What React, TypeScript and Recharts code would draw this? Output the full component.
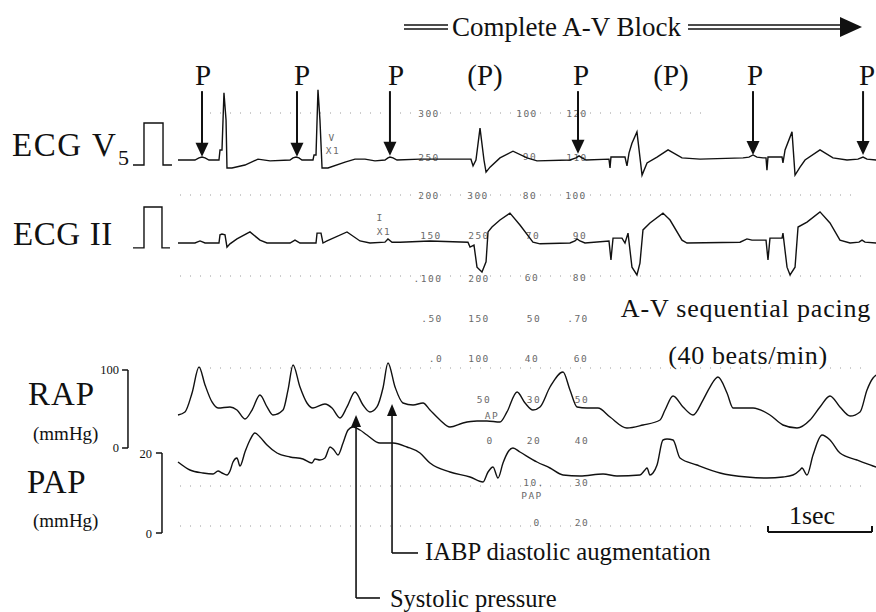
import React from 'react';
import { LineChart, Line, XAxis, YAxis, ReferenceLine, ReferenceDot } from 'recharts';

const SERIF = '"Liberation Serif", "Times New Roman", Times, serif';
const MONO = '"DejaVu Sans Mono", "Liberation Mono", monospace';
const INK = '#111';

// time axis: seconds from the start of the traces
const X_DOMAIN: [number, number] = [-1.7115, 6.7115];
// each trace has its own vertical scale (mV for ECG, mmHg for pressures)
const V5_DOMAIN: [number, number] = [-10.762, 3.81];
const II_DOMAIN: [number, number] = [-9.0, 5.927];
const RAP_DOMAIN: [number, number] = [-210.26, 574.36];
const PAP_DOMAIN: [number, number] = [-19.75, 133.25];

// ECG V5 (t s, mV)
const ecgV5: [number, number][] = [
  [0, 0], [0.163, 0], [0.202, 0.05], [0.231, 0.07], [0.26, 0.05], [0.298, 0], [0.394, 0], [0.404, 0.24], [0.423, 0.24],
  [0.442, 1.6], [0.462, 0.95], [0.471, -0.19], [0.519, -0.19], [0.644, -0.12], [0.769, 0.02], [0.885, -0.02], [1.077, 0],
  [1.106, 0.05], [1.135, 0.07], [1.163, 0.05], [1.192, 0], [1.298, 0], [1.308, 0.12], [1.327, 0.12], [1.346, 1.67],
  [1.365, 0.95], [1.385, -0.19], [1.442, -0.19], [1.606, -0.05], [1.702, 0.02], [1.798, 0.02], [1.894, -0.02], [1.99, 0],
  [2.019, 0.05], [2.038, 0.07], [2.067, 0.05], [2.106, 0], [2.327, 0.02], [2.817, 0.02], [2.837, -0.14], [2.865, 0],
  [2.904, 0.76], [2.942, 0], [2.962, -0.29], [3.0, -0.17], [3.096, 0.05], [3.221, 0.21], [3.356, 0.05], [3.452, -0.02],
  [3.769, 0], [3.827, 0.05], [3.856, 0.1], [3.885, 0.05], [3.923, 0], [4.144, 0.02], [4.154, -0.19], [4.163, 0.07],
  [4.298, 0.07], [4.317, -0.14], [4.337, 0.17], [4.365, 0.4], [4.413, 0.67], [4.462, -0.36], [4.51, -0.07], [4.606, 0.07],
  [4.712, 0.24], [4.846, 0.05], [5.019, 0.02], [5.433, 0.05], [5.49, 0.07], [5.529, 0.12], [5.567, 0.07], [5.625, 0.05],
  [5.654, 0.05], [5.663, -0.24], [5.673, 0.07], [5.808, 0.07], [5.817, -0.07], [5.837, 0.24], [5.904, 0.67], [5.933, -0.36],
  [5.981, -0.17], [6.029, 0], [6.173, 0.24], [6.298, 0.05], [6.433, 0], [6.538, 0.02], [6.587, 0.07], [6.625, 0.02], [6.712, 0],
];

// ECG II (t s, mV)
const ecgII: [number, number][] = [
  [0, 0], [0.163, 0], [0.212, 0.05], [0.26, 0], [0.394, 0], [0.404, 0.2], [0.423, 0.22], [0.452, 0.2], [0.471, -0.1],
  [0.5, -0.02], [0.567, 0.1], [0.692, 0.27], [0.788, 0.07], [0.856, 0], [1.077, 0], [1.125, 0.07], [1.173, 0], [1.327, 0],
  [1.337, 0.24], [1.375, 0.24], [1.394, 0], [1.433, 0.05], [1.625, 0.27], [1.75, 0.05], [1.846, 0], [1.99, 0.02],
  [2.019, 0.1], [2.058, 0.02], [2.135, 0.02], [2.423, 0.05], [2.788, 0.02], [2.808, -0.1], [2.846, -0.05], [2.875, -0.59],
  [2.923, -0.71], [2.962, -0.46], [2.981, 0.27], [3.019, 0.39], [3.096, 0.56], [3.192, 0.73], [3.288, 0.44], [3.413, 0.02],
  [3.481, -0.02], [3.769, 0], [3.817, 0.05], [3.837, 0.1], [3.865, 0.05], [3.913, 0], [4.144, 0.05], [4.163, -0.41],
  [4.183, 0.12], [4.269, 0.12], [4.298, 0], [4.327, 0.24], [4.365, -0.59], [4.413, -0.78], [4.442, -0.49], [4.471, 0.32],
  [4.538, 0.49], [4.663, 0.73], [4.731, 0.56], [4.846, 0.07], [4.894, 0], [5.404, 0.02], [5.471, 0.1], [5.519, 0.07],
  [5.654, 0.07], [5.673, -0.41], [5.692, 0.12], [5.808, 0.12], [5.817, 0.24], [5.856, -0.59], [5.885, -0.78], [5.933, -0.59],
  [5.962, 0.39], [6.048, 0.51], [6.173, 0.76], [6.269, 0.49], [6.365, 0.07], [6.462, 0], [6.548, 0.02], [6.577, 0.07],
  [6.606, 0.02], [6.712, 0],
];

// RAP (t s, mmHg)
const rap: [number, number][] = [
  [0, 42.3], [0.067, 46.2], [0.135, 70.5], [0.202, 103.8], [0.26, 80.8], [0.327, 59.0], [0.385, 51.3], [0.5, 52.6],
  [0.567, 48.7], [0.644, 37.2], [0.712, 48.7], [0.788, 67.9], [0.856, 52.6], [0.913, 42.3], [1.01, 48.7], [1.058, 74.4],
  [1.106, 106.4], [1.173, 78.2], [1.24, 57.7], [1.298, 51.3], [1.413, 56.4], [1.481, 51.3], [1.558, 38.5], [1.625, 52.6],
  [1.702, 71.8], [1.779, 55.1], [1.846, 46.2], [1.913, 52.6], [1.971, 76.9], [2.019, 109.0], [2.087, 78.2], [2.163, 57.7],
  [2.26, 55.1], [2.356, 57.7], [2.423, 48.7], [2.519, 35.9], [2.615, 26.9], [2.74, 32.1], [2.875, 34.6], [2.971, 34.6],
  [3.096, 33.3], [3.163, 46.2], [3.26, 71.8], [3.337, 57.7], [3.413, 48.7], [3.481, 52.6], [3.577, 78.2], [3.702, 97.4],
  [3.769, 74.4], [3.837, 52.6], [3.933, 51.3], [4.038, 51.3], [4.154, 39.7], [4.317, 25.6], [4.471, 29.5], [4.635, 35.9],
  [4.683, 48.7], [4.76, 66.7], [4.856, 52.6], [4.952, 42.3], [5.048, 61.5], [5.115, 78.2], [5.192, 91.0], [5.279, 70.5],
  [5.337, 51.3], [5.529, 51.3], [5.692, 42.3], [5.817, 29.5], [5.952, 25.6], [6.077, 35.9], [6.173, 52.6], [6.269, 66.7],
  [6.365, 52.6], [6.462, 41.0], [6.558, 46.2], [6.625, 74.4], [6.683, 89.7], [6.712, 93.6],
];

// PAP (t s, mmHg)
const pap: [number, number][] = [
  [0, 17.75], [0.115, 15.75], [0.24, 15.0], [0.337, 14.75], [0.385, 15.5], [0.423, 15.0], [0.471, 14.5], [0.5, 15.5],
  [0.529, 17.75], [0.567, 18.75], [0.596, 16.75], [0.644, 20.25], [0.692, 23.25], [0.74, 25.0], [0.788, 24.0], [0.856, 22.0],
  [0.952, 20.0], [1.077, 19.0], [1.202, 18.5], [1.288, 17.5], [1.317, 18.5], [1.365, 18.25], [1.413, 18.75], [1.462, 21.5],
  [1.5, 20.75], [1.538, 19.5], [1.587, 22.5], [1.635, 25.75], [1.683, 26.5], [1.75, 25.75], [1.817, 24.5], [1.942, 22.5],
  [2.067, 22.5], [2.202, 21.5], [2.327, 20.0], [2.423, 17.5], [2.615, 15.25], [2.808, 14.0], [2.933, 12.75], [2.981, 15.25],
  [3.029, 16.5], [3.077, 13.75], [3.125, 17.5], [3.173, 20.25], [3.221, 21.25], [3.288, 20.25], [3.452, 17.75], [3.577, 16.25],
  [3.702, 14.5], [3.865, 14.25], [4.087, 14.75], [4.221, 14.25], [4.442, 14.5], [4.49, 15.75], [4.51, 16.25], [4.538, 14.5],
  [4.567, 15.0], [4.606, 17.0], [4.663, 23.25], [4.702, 23.5], [4.76, 23.25], [4.827, 18.75], [4.99, 17.0], [5.212, 15.0],
  [5.471, 14.0], [5.663, 13.75], [5.817, 14.0], [5.913, 14.5], [5.981, 15.75], [6.0, 16.25], [6.048, 14.5], [6.106, 19.5],
  [6.192, 24.5], [6.269, 23.25], [6.365, 20.0], [6.529, 18.25], [6.683, 16.75], [6.712, 16.5],
];

// 1 mV calibration pulses
const calV5: [number, number][] = [[-0.433, -0.12], [-0.327, -0.12], [-0.327, 0.88], [-0.144, 0.88], [-0.144, -0.12], [-0.058, -0.12]];
const calII: [number, number][] = [[-0.433, -0.12], [-0.327, -0.12], [-0.327, 0.88], [-0.154, 0.88], [-0.154, -0.12], [-0.077, -0.12]];

// P-wave annotations
const pLabelText = ['P', 'P', 'P', '(P)', 'P', '(P)', 'P', 'P'];
const pLabelTime = [0.24, 1.192, 2.096, 2.952, 3.875, 4.74, 5.548, 6.625];
const pArrowTime = [0.231, 1.144, 2.038, 3.846, 5.529, 6.587];
const pArrowTip = [0.08, 0.08, 0.1, 0.15, 0.12, 0.12];

// pressure scale brackets
const rapTicks = [0, 100];
const papTicks = [0, 20];

// background monitor grid numbers [text, x, y]
const monitorLabels: [string, number, number][] = [
  ['300', 429, 113], ['100', 527, 113], ['120', 577, 113],
  ['250', 429, 157], ['90', 530, 156], ['110', 577, 157],
  ['200', 429, 195], ['300', 478, 195], ['80', 530, 195], ['100', 576, 195],
  ['150', 431, 235], ['250', 479, 235], ['70', 533, 235], ['90', 580, 235],
  ['.100', 428, 278], ['200', 479, 278], ['60', 532, 277], ['80', 580, 277],
  ['.50', 432, 318], ['150', 479, 318], ['50', 534, 318], ['.70', 578, 318],
  ['.0', 436, 358], ['100', 479, 358], ['40', 532, 358], ['60', 581, 358],
  ['50', 484, 399], ['30', 534, 399], ['50', 582, 399], ['AP', 492, 415],
  ['0', 490, 440], ['20', 534, 440], ['40', 582, 440],
  ['10.', 534, 482], ['30', 582, 482], ['PAP', 532, 495],
  ['0', 537, 522], ['20', 582, 522],
  ['V', 332, 137], ['X1', 333, 150], ['I', 380, 217], ['X1', 384, 231],
];
const dottedRows: [number, number, number][] = [
  [113, 210, 710], [195, 180, 860], [276, 180, 870], [368, 200, 870], [486, 180, 870], [526, 180, 760],
];

const rows = (pts: [number, number][]) => pts.map(([t, v]) => ({ t, v }));

const textShape = (txt: string, size: number, anchor: string = 'middle', dy: number = 0) => (props: any) => (
  <text x={props.cx} y={props.cy + dy} fontSize={size} textAnchor={anchor} fontFamily={SERIF} fill={INK}>{txt}</text>
);
const downHead = (props: any) => {
  const { cx, cy } = props;
  return <path d={`M${cx},${cy} L${cx - 6.5},${cy - 14} L${cx + 6.5},${cy - 14} Z`} fill={INK} />;
};
const upHead = (props: any) => {
  const { cx, cy } = props;
  return <path d={`M${cx},${cy} L${cx - 5},${cy + 12} L${cx + 5},${cy + 12} Z`} fill={INK} />;
};

const lineCommon = {
  stroke: INK,
  strokeWidth: 1.4,
  dot: false,
  activeDot: false,
  isAnimationActive: false,
  legendType: 'none' as const,
};

export default function App() {
  return (
    <div style={{ position: 'fixed', left: 0, top: 0, width: 876, height: 612, background: '#fff', overflow: 'hidden' }}>
      <svg width={876} height={612} style={{ position: 'absolute', left: 0, top: 0 }}>
        {dottedRows.map(([y, x1, x2], i) => (
          <line key={i} x1={x1} x2={x2} y1={y} y2={y} stroke="#9a9a9a" strokeWidth={1} strokeDasharray="1 9" />
        ))}
        {monitorLabels.map(([s, x, y], i) => (
          <text key={i} x={x} y={y + 3.5} fontSize={9.5} fontFamily={MONO} fill="#6a6a6a" textAnchor="middle" letterSpacing={1.5}>{s}</text>
        ))}
      </svg>
      <div style={{ position: 'absolute', left: 0, top: 0 }}>
        <LineChart width={876} height={612} margin={{ top: 0, right: 0, bottom: 0, left: 0 }}>
          <XAxis type="number" dataKey="t" domain={X_DOMAIN} hide allowDataOverflow />
          <YAxis yAxisId="v5" type="number" domain={V5_DOMAIN} hide allowDataOverflow />
          <YAxis yAxisId="ii" type="number" domain={II_DOMAIN} hide allowDataOverflow />
          <YAxis yAxisId="rap" type="number" domain={RAP_DOMAIN} hide allowDataOverflow />
          <YAxis yAxisId="pap" type="number" domain={PAP_DOMAIN} hide allowDataOverflow />

          <Line yAxisId="v5" data={rows(calV5)} dataKey="v" type="linear" {...lineCommon} />
          <Line yAxisId="ii" data={rows(calII)} dataKey="v" type="linear" {...lineCommon} />
          <Line yAxisId="v5" data={rows(ecgV5)} dataKey="v" type="linear" {...lineCommon} />
          <Line yAxisId="ii" data={rows(ecgII)} dataKey="v" type="linear" {...lineCommon} />
          <Line yAxisId="rap" data={rows(rap)} dataKey="v" type="monotone" {...lineCommon} />
          <Line yAxisId="pap" data={rows(pap)} dataKey="v" type="monotone" {...lineCommon} />

          {pLabelText.map((s, i) => (
            <ReferenceDot key={`pl${i}`} yAxisId="v5" x={pLabelTime[i]} y={1.79} r={0} shape={textShape(s, 29)} />
          ))}
          {pArrowTime.map((t, i) => (
            <ReferenceLine key={`pa${i}`} yAxisId="v5" segment={[{ x: t, y: 1.64 }, { x: t, y: pArrowTip[i] + 0.25 }]} stroke={INK} strokeWidth={2} />
          ))}
          {pArrowTime.map((t, i) => (
            <ReferenceDot key={`ph${i}`} yAxisId="v5" x={t} y={pArrowTip[i]} r={0} shape={downHead} />
          ))}

          {/* RAP scale bracket */}
          <ReferenceLine yAxisId="rap" segment={[{ x: -0.481, y: 0 }, { x: -0.481, y: 100 }]} stroke={INK} strokeWidth={1.5} />
          {rapTicks.map((v) => (
            <ReferenceLine key={`rt${v}`} yAxisId="rap" segment={[{ x: -0.538, y: v }, { x: -0.481, y: v }]} stroke={INK} strokeWidth={1.5} />
          ))}
          {rapTicks.map((v) => (
            <ReferenceDot key={`rl${v}`} yAxisId="rap" x={-0.567} y={v} r={0} shape={textShape(String(v), 12.5, 'end', 4.5)} />
          ))}
          {/* PAP scale bracket */}
          <ReferenceLine yAxisId="pap" segment={[{ x: -0.154, y: 0 }, { x: -0.154, y: 20 }]} stroke={INK} strokeWidth={1.5} />
          {papTicks.map((v) => (
            <ReferenceLine key={`pt${v}`} yAxisId="pap" segment={[{ x: -0.212, y: v }, { x: -0.154, y: v }]} stroke={INK} strokeWidth={1.5} />
          ))}
          {papTicks.map((v) => (
            <ReferenceDot key={`pll${v}`} yAxisId="pap" x={-0.25} y={v} r={0} shape={textShape(String(v), 12.5, 'end', 4.5)} />
          ))}

          {/* 1 sec scale bar */}
          <ReferenceLine yAxisId="pap" segment={[{ x: 5.673, y: 0.25 }, { x: 6.673, y: 0.25 }]} stroke={INK} strokeWidth={2} />
          <ReferenceLine yAxisId="pap" segment={[{ x: 5.673, y: 0.25 }, { x: 5.673, y: 1.75 }]} stroke={INK} strokeWidth={2} />
          <ReferenceLine yAxisId="pap" segment={[{ x: 6.673, y: 0.25 }, { x: 6.673, y: 1.75 }]} stroke={INK} strokeWidth={2} />
          <ReferenceDot yAxisId="pap" x={6.096} y={2.25} r={0} shape={textShape('1sec', 26)} />

          {/* systolic pressure callout */}
          <ReferenceLine yAxisId="rap" segment={[{ x: 1.712, y: 30 }, { x: 1.712, y: -192.3 }]} stroke={INK} strokeWidth={1.6} />
          <ReferenceLine yAxisId="rap" segment={[{ x: 1.712, y: -192.3 }, { x: 1.942, y: -192.3 }]} stroke={INK} strokeWidth={1.6} />
          <ReferenceDot yAxisId="rap" x={1.712} y={42.3} r={0} shape={upHead} />
          <ReferenceDot yAxisId="rap" x={2.038} y={-203.5} r={0} shape={textShape('Systolic pressure', 24.5, 'start')} />
          {/* IABP callout */}
          <ReferenceLine yAxisId="rap" segment={[{ x: 2.058, y: 45 }, { x: 2.058, y: -134.6 }]} stroke={INK} strokeWidth={1.6} />
          <ReferenceLine yAxisId="rap" segment={[{ x: 2.058, y: -134.6 }, { x: 2.308, y: -134.6 }]} stroke={INK} strokeWidth={1.6} />
          <ReferenceDot yAxisId="rap" x={2.058} y={56.4} r={0} shape={upHead} />
          <ReferenceDot yAxisId="rap" x={2.375} y={-143.6} r={0} shape={textShape('IABP diastolic augmentation', 24.7, 'start')} />
        </LineChart>
      </div>
      <svg width={876} height={612} style={{ position: 'absolute', left: 0, top: 0, pointerEvents: 'none' }}>
        <g fontFamily={SERIF} fill={INK}>
          {/* Complete A-V Block banner */}
          <line x1={404} x2={448} y1={25} y2={25} stroke={INK} strokeWidth={1.6} />
          <line x1={404} x2={448} y1={29} y2={29} stroke={INK} strokeWidth={1.6} />
          <text x={452} y={36} fontSize={27}>Complete A-V Block</text>
          <line x1={688} x2={843} y1={25} y2={25} stroke={INK} strokeWidth={1.6} />
          <line x1={688} x2={843} y1={29} y2={29} stroke={INK} strokeWidth={1.6} />
          <path d="M840,17 L862,27 L840,37 Z" fill={INK} />

          <text x={12} y={156} fontSize={33} letterSpacing={1.6}>ECG V</text>
          <text x={118} y={165} fontSize={22}>5</text>
          <text x={13} y={245} fontSize={33} letterSpacing={0.6}>ECG II</text>
          <text x={28} y={405} fontSize={33} letterSpacing={1}>RAP</text>
          <text x={33} y={440} fontSize={19}>(mmHg)</text>
          <text x={27} y={493} fontSize={33} letterSpacing={0.5}>PAP</text>
          <text x={33} y={527} fontSize={19}>(mmHg)</text>

          <text x={746} y={317} fontSize={26} textAnchor="middle" letterSpacing={0.8}>A-V sequential pacing</text>
          <text x={748} y={364} fontSize={26} textAnchor="middle" letterSpacing={0.6}>(40 beats/min)</text>
        </g>
      </svg>
    </div>
  );
}
